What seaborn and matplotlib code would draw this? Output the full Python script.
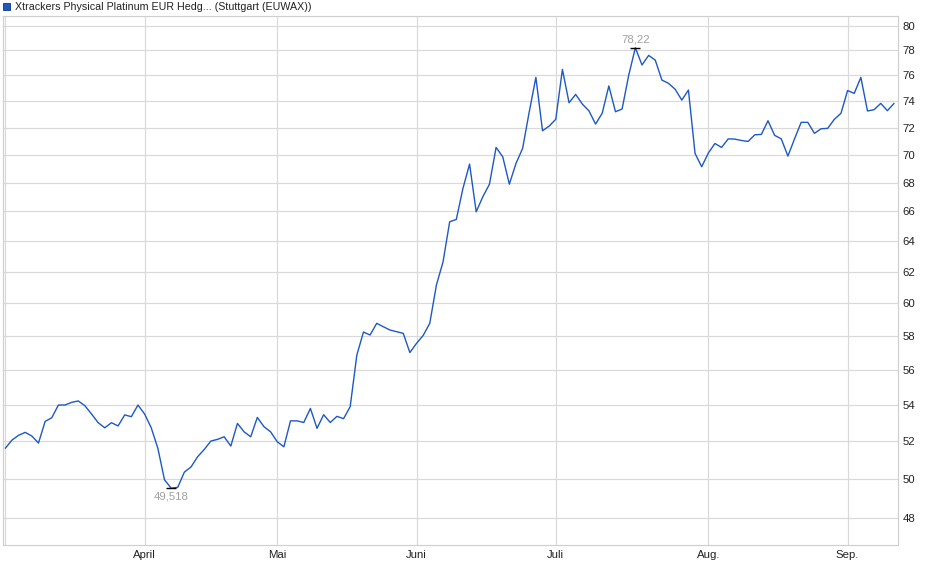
import numpy as np
import pandas as pd
import matplotlib
matplotlib.use("Agg")
import matplotlib.pyplot as plt
import seaborn as sns
from matplotlib.patches import Rectangle
from matplotlib.ticker import FixedLocator, FixedFormatter, NullLocator

# ---------------- data ----------------
title = "Xtrackers Physical Platinum EUR Hedg... (Stuttgart (EUWAX))"
start_date = "2025-03-03"
end_date = "2025-09-10"
holidays = ["2025-04-18", "2025-04-21", "2025-05-01"]

prices = [
    51.61, 52.05, 52.31, 52.47, 52.27, 51.89, 53.07, 53.27, 53.98, 53.98,
    54.13, 54.21, 53.94, 53.48, 53.00, 52.72, 53.00, 52.82, 53.43, 53.33,
    53.98, 53.48, 52.72, 51.61, 49.95, 49.518, 49.56, 50.35, 50.62, 51.16,
    51.55, 52.00, 52.09, 52.23, 51.73, 52.96, 52.50, 52.23, 53.29, 52.78,
    52.50, 51.96, 51.69, 53.10, 53.10, 53.01, 53.79, 52.69, 53.44, 53.01,
    53.35, 53.22, 53.89, 56.85, 58.23, 58.05, 58.76, 58.55, 58.35, 58.25,
    58.15, 57.00, 57.55, 58.02, 58.76, 61.14, 62.63, 65.29, 65.45, 67.59,
    69.32, 65.97, 67.01, 67.89, 70.53, 69.85, 67.89, 69.37, 70.46, 73.19,
    75.85, 71.76, 72.11, 72.62, 76.48, 73.88, 74.52, 73.78, 73.26, 72.26,
    73.08, 75.18, 73.19, 73.40, 76.03, 78.22, 76.83, 77.60, 77.22, 75.64,
    75.38, 74.92, 74.08, 74.86, 70.09, 69.13, 70.12, 70.82, 70.53, 71.16,
    71.14, 71.04, 70.97, 71.46, 71.49, 72.51, 71.42, 71.16, 69.90, 71.16,
    72.39, 72.39, 71.57, 71.91, 71.94, 72.62, 73.07, 74.82, 74.60, 75.85,
    73.25, 73.35, 73.83, 73.27, 73.83,
]

y_ticks = [48, 50, 52, 54, 56, 58, 60, 62, 64, 66, 68, 70, 72, 74, 76, 78, 80]
month_labels = {3: "", 4: "April", 5: "Mai", 6: "Juni", 7: "Juli", 8: "Aug.", 9: "Sep."}

# ---------------- frame ----------------
dates = pd.bdate_range(start_date, end_date)
dates = dates[~dates.isin(pd.to_datetime(holidays))]
df = pd.DataFrame({"date": dates, "price": prices})
df["idx"] = np.arange(len(df))

sns.set_style("white")
plt.rcParams["font.family"] = ["Liberation Sans", "DejaVu Sans"]

W, H = 940, 579
fig = plt.figure(figsize=(W / 100, H / 100), dpi=100)
ax = fig.add_axes([3 / W, 1 - 545 / H, 895 / W, 529 / H])

line_color = "#1d58c4"
sns.lineplot(data=df, x="idx", y="price", ax=ax, color=line_color, lw=1.0)

ax.set_yscale("log")
ax.set_ylim(46.68, 80.84)
ax.set_xlim(-0.35, 134.6)
ax.yaxis.set_major_locator(FixedLocator(y_ticks))
ax.yaxis.set_major_formatter(FixedFormatter([str(t) for t in y_ticks]))
ax.yaxis.set_minor_locator(NullLocator())
ax.yaxis.tick_right()

first = df.groupby(df["date"].dt.month)["idx"].min()
ax.set_xticks(first.values)
ax.set_xticklabels([month_labels[m] for m in first.index])
ax.xaxis.set_minor_locator(NullLocator())

ax.grid(True, color="#d9d9d9", lw=0.85)
ax.set_axisbelow(True)
ax.tick_params(length=0, labelsize=8.2, colors="#222222", pad=3.5)
for s in ax.spines.values():
    s.set_color("#cfcfcf")
    s.set_linewidth(0.85)
ax.set_xlabel("")
ax.set_ylabel("")

# ---------------- high / low markers ----------------
imax = df["price"].idxmax()
imin = df["price"].idxmin()
vmax = df.loc[imax, "price"]
vmin = df.loc[imin, "price"]
ax.plot([imax], [vmax], marker="_", ms=6.5, mew=1.0, color="black")
ax.plot([imin], [vmin], marker="_", ms=6.5, mew=1.0, color="black")
ax.annotate(f"{vmax:g}".replace(".", ","), (imax, vmax), xytext=(0, 2.5),
            textcoords="offset points", ha="center", va="bottom",
            fontsize=8.2, color="#a0a0a0")
ax.annotate(f"{vmin:g}".replace(".", ","), (imin, vmin), xytext=(0, -2.5),
            textcoords="offset points", ha="center", va="top",
            fontsize=8.2, color="#a0a0a0")

# ---------------- title / legend ----------------
fig.patches.append(Rectangle((3.3 / W, 1 - 10 / H), 7 / W, 7 / H,
                             transform=fig.transFigure, facecolor=line_color,
                             edgecolor="#17327a", lw=0.6))
fig.text(15 / W, 1 - 6.8 / H, title, ha="left", va="center",
         fontsize=7.7, color="#222222")

fig.savefig("out.png", dpi=100)
